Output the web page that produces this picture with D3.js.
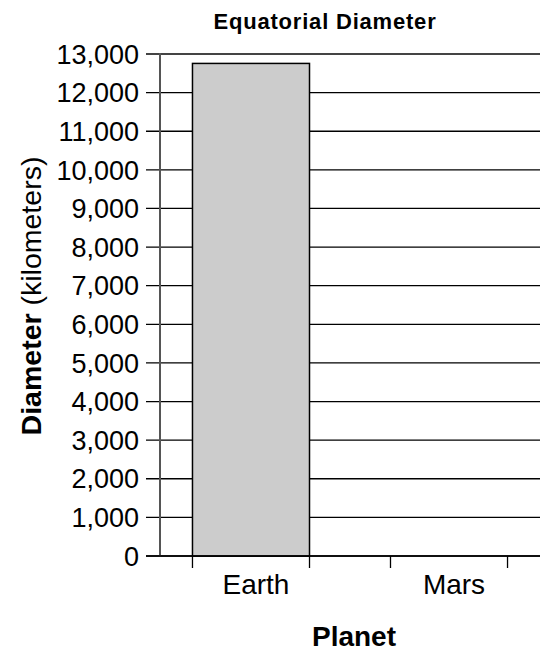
<!DOCTYPE html>
<html>
<head>
<meta charset="utf-8">
<script src="https://cdn.jsdelivr.net/npm/d3@7/dist/d3.min.js"></script>
<style>
  body { margin: 0; background: #fff; }
  svg { display: block; font-family: "Liberation Sans", Arial, sans-serif; }
</style>
</head>
<body>
<svg id="chart" width="540" height="656"></svg>
<script>
const categories = ["Earth", "Mars"];
const diameters = [12756, 0];
const yTicks = [0, 1000, 2000, 3000, 4000, 5000, 6000, 7000, 8000, 9000, 10000, 11000, 12000, 13000];
const titleText = "Equatorial Diameter";
const xTitle = "Planet";

const svg = d3.select("#chart");
const plotLeft = 160, plotRight = 540, plotTop = 54, plotBottom = 556;

const x = d3.scaleBand().domain(categories).range([plotLeft, plotRight])
  .paddingInner(0.409).paddingOuter(0.164);
const y = d3.scaleLinear().domain([0, 13000]).range([plotBottom, plotTop]);

// gridlines
svg.append("g").selectAll("line").data(yTicks).join("line")
  .attr("x1", 146).attr("x2", plotRight)
  .attr("y1", d => y(d)).attr("y2", d => y(d))
  .attr("stroke", d => d === 13000 ? "#444" : "#000")
  .attr("stroke-width", d => d === 13000 ? 2 : 1.3);

// y labels
svg.append("g").selectAll("text").data(yTicks).join("text")
  .attr("x", 139).attr("y", d => y(d))
  .attr("dy", "0.36em")
  .attr("text-anchor", "end")
  .attr("font-size", 27)
  .text(d => d3.format(",")(d));

// bars
svg.append("g").selectAll("rect").data(categories).join("rect")
  .attr("x", d => x(d))
  .attr("width", x.bandwidth())
  .attr("y", (d, i) => y(diameters[i]))
  .attr("height", (d, i) => plotBottom - y(diameters[i]))
  .attr("fill", "#cccccc")
  .attr("stroke", "#000")
  .attr("stroke-width", 1.5)
  .style("display", (d, i) => diameters[i] > 0 ? null : "none");

// y axis line
svg.append("line").attr("x1", plotLeft).attr("x2", plotLeft)
  .attr("y1", plotTop - 1).attr("y2", plotBottom + 1)
  .attr("stroke", "#555").attr("stroke-width", 2);

// baseline
svg.append("line").attr("x1", 146).attr("x2", plotRight)
  .attr("y1", plotBottom).attr("y2", plotBottom)
  .attr("stroke", "#000").attr("stroke-width", 1.5);

// x ticks at band edges
const edges = [];
categories.forEach(c => { edges.push(x(c)); edges.push(x(c) + x.bandwidth()); });
svg.append("g").selectAll("line").data(edges).join("line")
  .attr("x1", d => d).attr("x2", d => d)
  .attr("y1", plotBottom).attr("y2", plotBottom + 12)
  .attr("stroke", "#000").attr("stroke-width", 1.3);

// x labels
svg.append("g").selectAll("text").data(categories).join("text")
  .attr("x", d => x(d) + x.bandwidth() / 2 + 5)
  .attr("y", 594)
  .attr("text-anchor", "middle")
  .attr("font-size", 28)
  .text(d => d);

// title
svg.append("text").attr("x", 325).attr("y", 29)
  .attr("text-anchor", "middle").attr("font-weight", "bold")
  .attr("font-size", 22).attr("letter-spacing", 0.8).text(titleText);

// x title
svg.append("text").attr("x", 354).attr("y", 646)
  .attr("text-anchor", "middle").attr("font-weight", "bold")
  .attr("font-size", 28).text(xTitle);

// y title
const yt = svg.append("text")
  .attr("transform", "translate(41,296) rotate(-90)")
  .attr("text-anchor", "middle")
  .attr("font-size", 28.5);
yt.append("tspan").attr("font-weight", "bold").text("Diameter");
yt.append("tspan").text(" (kilometers)");
</script>
</body>
</html>
